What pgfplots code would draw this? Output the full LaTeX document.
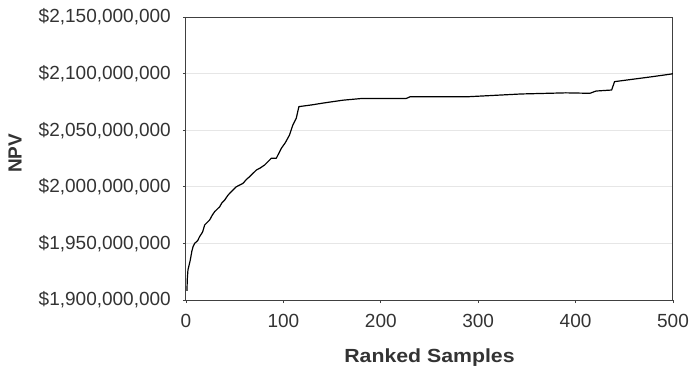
\documentclass[border=0pt]{standalone}
\usepackage{pgfplots}
\pgfplotsset{compat=1.18}
\usepackage{fontspec}
\setmainfont{Liberation Sans}
\definecolor{axisgray}{HTML}{404040}
\definecolor{textgray}{HTML}{333333}
\definecolor{gridgray}{HTML}{E6E6E6}

\begin{document}
\begin{tikzpicture}
\begin{axis}[
  scale only axis,
  width=487bp, height=283bp,
  xmin=0, xmax=500,
  ymin=1900000000, ymax=2150000000,
  xtick={0,100,200,300,400,500},
  ytick={1900000000,1950000000,2000000000,2050000000,2100000000,2150000000},
  yticklabels={{\$1,900,000,000},{\$1,950,000,000},{\$2,000,000,000},{\$2,050,000,000},{\$2,100,000,000},{\$2,150,000,000}},
  scaled y ticks=false,
  ymajorgrids,
  major grid style={gridgray, line width=0.8bp},
  axis line style={axisgray, line width=1bp},
  tick style={axisgray, line width=0.8bp},
  tick align=outside,
  major tick length=3bp,
  xtick pos=bottom, ytick pos=left,
  /pgf/number format/assume math mode=true,
  tick label style={font=\fontsize{19bp}{22bp}\selectfont, text=textgray},
  yticklabel style={inner sep=0pt, xshift=-12bp},
  xticklabel style={inner sep=0pt, yshift=-11bp},
  xlabel={\scalebox{1.12}[1]{\bfseries Ranked Samples}},
  ylabel={\bfseries NPV},
  label style={font=\fontsize{19bp}{22bp}\selectfont, text=textgray},
  xlabel style={at={(axis description cs:0.5,0)}, anchor=base, yshift=-62bp},
  ylabel style={at={(axis description cs:-0.351,0.518)}, anchor=center},
]
\addplot[black, line width=1.2bp, line join=round] coordinates {
  (1,1908000000)
  (1.3,1918000000)
  (2,1926500000)
  (4.4,1935300000)
  (6,1943000000)
  (7.2,1947000000)
  (8.9,1950000000)
  (12,1952500000)
  (14,1956000000)
  (17,1960000000)
  (19.2,1966300000)
  (24.3,1970700000)
  (27,1975000000)
  (29.4,1978000000)
  (34.6,1982400000)
  (37,1986000000)
  (39.7,1988300000)
  (43,1992500000)
  (46.5,1995700000)
  (51.6,2000000000)
  (58.5,2003000000)
  (62,2006500000)
  (65.4,2009000000)
  (72.2,2014800000)
  (76,2016500000)
  (80.8,2019300000)
  (87.6,2025200000)
  (92.7,2025200000)
  (97.9,2034000000)
  (102,2039000000)
  (106.3,2045800000)
  (109.7,2054600000)
  (113.2,2060500000)
  (115.9,2070800000)
  (120,2071300000)
  (128.7,2072300000)
  (141,2074000000)
  (161,2076500000)
  (180,2078000000)
  (226,2078000000)
  (230,2079500000)
  (288,2079500000)
  (344,2082000000)
  (390,2083000000)
  (414.7,2082600000)
  (421,2084600000)
  (437,2085500000)
  (440,2092900000)
  (465.7,2095800000)
  (479,2097300000)
  (498,2099600000)
  (500,2100000000)
};
\end{axis}
\pgfresetboundingbox
\path[use as bounding box] ([shift={(-186bp,-66bp)}]current axis.south west) rectangle ([shift={(18bp,17bp)}]current axis.north east);
\end{tikzpicture}
\end{document}
